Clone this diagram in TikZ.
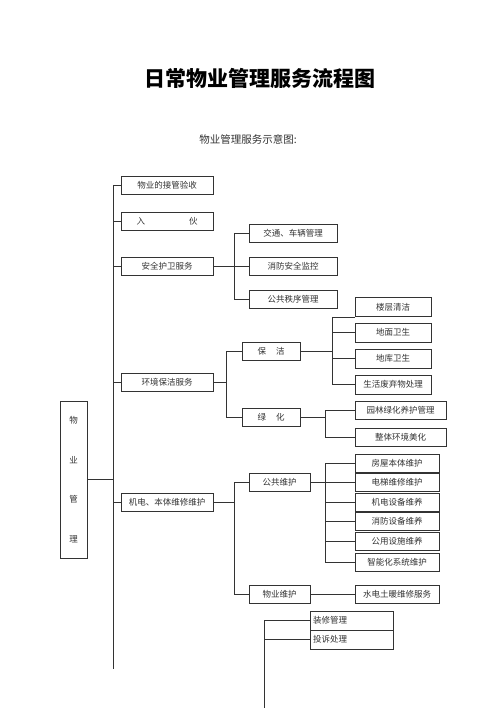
\documentclass[tikz,border=0pt]{standalone}
\usepackage{fontspec}
\setmainfont{Noto Sans CJK SC}
\usetikzlibrary{positioning}

\begin{document}
\begin{tikzpicture}[
        x = 1pt, y = -1pt, % pixel grid, y downwards
        line width = 0.7pt,
        color = black!80,
        item/.style = {draw, fill = white, rectangle, inner sep = 0pt,
                       minimum height = 18pt, font = \fontsize{8.5}{10}\selectfont},
        colA/.style = {item, minimum width = 92pt},
        colB/.style = {item, minimum width = 88pt},
        colS/.style = {item, minimum width = 58pt},
        colM/.style = {item, minimum width = 61pt},
        colC/.style = {item, minimum width = 76pt, minimum height = 19pt},
        colG/.style = {item, minimum width = 91pt},
        colD/.style = {item, minimum width = 84pt},
        colE/.style = {item, minimum width = 83pt, minimum height = 19pt,
                       align = left, text width = 77pt}
        ]

  \useasboundingbox (0,0) rectangle (500,708);

  % headings
  \node[black] (title) at (260,78) {\fontsize{21}{24}\selectfont\bfseries 日常物业管理服务流程图};
  \node (subtitle) at (248,139) {\fontsize{10.5}{12}\selectfont 物业管理服务示意图:};

  % root
  \node[item, minimum width = 27pt, minimum height = 157pt,
        font = \fontsize{8.5}{39.7}\selectfont, align = center] (wuye) at (73.5,479.5)
        {物\\业\\管\\理};

  % first level
  \node[colA] (jieshou)  at (167,185) {物业的接管验收};
  \node[colA] (ruhuo)    at (167,221) {入\hspace{44pt}伙};
  \node[colA] (anquan)   at (167,266) {安全护卫服务};
  \node[colA] (huanjing) at (167,382) {环境保洁服务};
  \node[colA] (jidian)   at (167,502) {机电、本体维修维护};

  % security
  \node[colB] (jiaotong) at (293,233) {交通、车辆管理};
  \node[colB] (jiankong) at (293,266) {消防安全监控};
  \node[colB] (zhixu)    at (293,299) {公共秩序管理};

  % cleaning
  \node[colS] (baojie) at (271,351) {保\hspace{10pt}洁};
  \node[colS] (lvhua)  at (271,417) {绿\hspace{10pt}化};

  \node[colC] (louceng)  at (393,307)   {楼层清洁};
  \node[colC] (dimian)   at (393,332.5) {地面卫生};
  \node[colC] (diku)     at (393,358.5) {地库卫生};
  \node[colC] (feiqiwu)  at (393,384.5) {生活废弃物处理};

  \node[colG] (yuanlin) at (400.5,410) {园林绿化养护管理};
  \node[colG] (zhengti) at (400.5,437) {整体环境美化};

  % maintenance
  \node[colM] (gonggong)   at (279.5,482.5) {公共维护};
  \node[colM] (wuyeweihu)  at (279.5,594)   {物业维护};

  \node[colD] (fangwu)     at (397,463)   {房屋本体维护};
  \node[colD] (dianti)     at (397,482.5) {电梯维修维护};
  \node[colD] (jidiansb)   at (397,502)   {机电设备维养};
  \node[colD] (xiaofangsb) at (397,521.5) {消防设备维养};
  \node[colD] (gongyong)   at (397,541)   {公用设施维养};
  \node[colD] (zhineng)    at (397,562.5) {智能化系统维护};
  \node[colD] (shuidian)   at (397,594)   {水电土暖维修服务};

  % other
  \node[colE] (zhuangxiu) at (351.5,620.5) {装修管理};
  \node[colE] (tousu)     at (351.5,639.5) {投诉处理};

  % buses
  \coordinate (mbus) at (113,0);
  \coordinate (abus) at (234,0);
  \coordinate (hbus) at (226,0);
  \coordinate (bbus) at (332,0);
  \coordinate (lbus) at (325,0);
  \coordinate (jbus) at (234,0);
  \coordinate (gbus) at (325,0);
  \coordinate (obus) at (264,0);
  \coordinate (mend) at (113,669);
  \coordinate (oend) at (264,708);

  % main tree
  \draw (jieshou.west -| mbus) -- (mend);
  \foreach \n in {jieshou, ruhuo, anquan, huanjing, jidian}
    \draw (\n.west) -- (\n.west -| mbus);
  \draw (wuye.east) -- (wuye.east -| mbus);

  \draw (anquan.east) -- (anquan.east -| abus);
  \draw (jiaotong.west -| abus) -- (zhixu.west -| abus);
  \foreach \n in {jiaotong, jiankong, zhixu}
    \draw (\n.west) -- (\n.west -| abus);

  \draw (huanjing.east) -- (huanjing.east -| hbus);
  \draw (baojie.west -| hbus) -- (lvhua.west -| hbus);
  \foreach \n in {baojie, lvhua}
    \draw (\n.west) -- (\n.west -| hbus);

  \draw (baojie.east) -- (baojie.east -| bbus);
  \draw (louceng.south west -| bbus) -- (feiqiwu.west -| bbus);
  \draw (louceng.south west) -- (louceng.south west -| bbus);
  \foreach \n in {dimian, diku, feiqiwu}
    \draw (\n.west) -- (\n.west -| bbus);

  \draw (lvhua.east) -- (lvhua.east -| lbus);
  \draw (yuanlin.west -| lbus) -- (zhengti.west -| lbus);
  \foreach \n in {yuanlin, zhengti}
    \draw (\n.west) -- (\n.west -| lbus);

  \draw (jidian.east) -- (jidian.east -| jbus);
  \draw (gonggong.west -| jbus) -- (wuyeweihu.west -| jbus);
  \foreach \n in {gonggong, wuyeweihu}
    \draw (\n.west) -- (\n.west -| jbus);

  \draw (gonggong.east) -- (gonggong.east -| gbus);
  \draw (fangwu.west -| gbus) -- (zhineng.west -| gbus);
  \foreach \n in {fangwu, dianti, jidiansb, xiaofangsb, gongyong, zhineng}
    \draw (\n.west) -- (\n.west -| gbus);
  \draw (wuyeweihu.east) -- (shuidian.west);

  \draw (zhuangxiu.west -| obus) -- (oend);
  \foreach \n in {zhuangxiu, tousu}
    \draw (\n.west) -- (\n.west -| obus);

\end{tikzpicture}
\end{document}
